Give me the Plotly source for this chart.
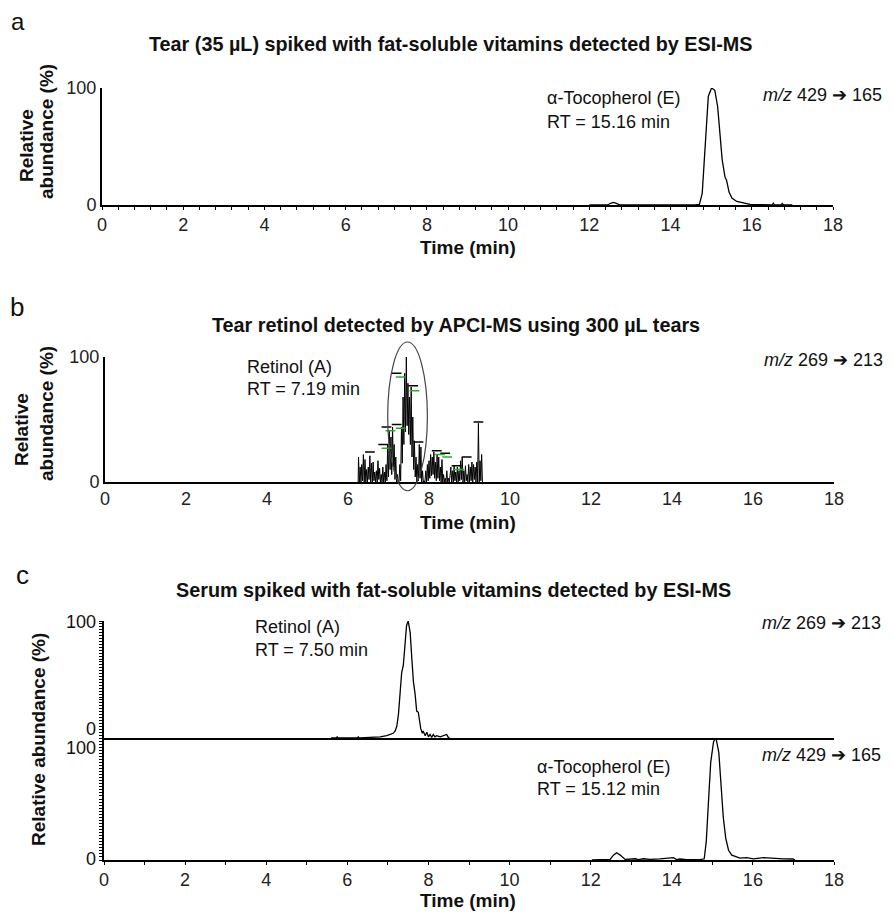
import plotly.graph_objects as go

# The page body has an 8 px margin, so the figure is drawn 8 px smaller and
# every layout pixel position below is given in window coordinates.
OFF = 8
W, H = 893 - OFF, 914 - OFF


def px(x):
    return (x - OFF) / W


def py(y):
    return 1 - (y - OFF) / H


# ---------------- data ----------------
# Panel a: tear spiked, ESI-MS, m/z 429 -> 165 (alpha-tocopherol)
a_time = [12.0, 12.45, 12.52, 12.6, 12.68, 12.76, 14.6, 14.71, 14.78, 14.85, 14.93,
          15.01, 15.09, 15.16, 15.22, 15.27, 15.34, 15.38, 15.44, 15.51, 15.63,
          15.79, 15.96, 16.2, 16.5, 16.53, 16.56, 16.72, 16.75, 16.78, 17.0]
a_abund = [0, 0, 1.5, 2.2, 1.2, 0, 0, 0.5, 10, 53, 93,
           100, 98, 84, 59, 39, 24, 21, 11, 6, 3,
           1.5, 0.5, 0.3, 0, 1.5, 0, 0, 1.2, 0, 0]

# Panel b: tear retinol, APCI-MS, m/z 269 -> 213
b_time = [6.25, 6.26, 6.28, 6.30, 6.32, 6.34, 6.36, 6.38, 6.40, 6.42, 6.44, 6.46, 6.48,
          6.50, 6.52, 6.54, 6.56, 6.58, 6.60, 6.62, 6.64, 6.66, 6.68, 6.70, 6.72, 6.74,
          6.76, 6.78, 6.80, 6.82, 6.84, 6.86, 6.88, 6.90, 6.92, 6.94,
          6.96, 6.98, 7.00, 7.02, 7.04, 7.06, 7.08, 7.10, 7.12, 7.14, 7.16, 7.18, 7.20,
          7.22, 7.24,
          7.26, 7.28, 7.30, 7.32, 7.34, 7.36, 7.38, 7.40, 7.42, 7.44, 7.46, 7.48, 7.50,
          7.52, 7.54, 7.56, 7.58, 7.60, 7.62, 7.64, 7.66, 7.68, 7.70, 7.72, 7.74, 7.76,
          7.78, 7.80, 7.82, 7.84, 7.86,
          7.88, 7.90, 7.92, 7.94, 7.96, 7.98, 8.00, 8.02, 8.04, 8.06, 8.08, 8.10, 8.12,
          8.14, 8.16, 8.18, 8.20, 8.22, 8.24, 8.26, 8.28, 8.30, 8.32, 8.34, 8.36, 8.38,
          8.40, 8.42, 8.44, 8.46, 8.48, 8.50,
          8.52, 8.54, 8.56, 8.58, 8.60, 8.62, 8.64, 8.66, 8.68, 8.70, 8.72, 8.74, 8.76,
          8.78, 8.80, 8.82, 8.84, 8.86, 8.88, 8.90, 8.92, 8.94, 8.96, 8.98, 9.00, 9.02,
          9.04, 9.06, 9.08, 9.10, 9.12, 9.14, 9.16, 9.18, 9.20, 9.22, 9.24, 9.26, 9.28,
          9.30, 9.32]
b_abund = [0, 20, 0, 12, 0, 14, 1, 22, 0, 18, 0, 10, 0,
           12, 2, 21, 0, 15, 0, 16, 1, 8, 0, 9, 0, 17,
           2, 11, 0, 6, 0, 12, 0, 8, 0, 14,
           1, 30, 4, 41, 10, 36, 6, 44, 12, 30, 2, 20, 0,
           6, 0,
           0, 14, 1, 44, 15, 68, 30, 87, 40, 100, 45, 79, 38,
           68, 30, 76, 20, 52, 10, 33, 4, 20, 0, 14, 1, 30,
           3, 28, 0, 9, 0,
           1, 0, 9, 0, 14, 1, 17, 3, 22, 5, 20, 6, 24,
           3, 16, 1, 22, 3, 20, 1, 12, 0, 18, 0, 6, 0,
           3, 0, 9, 0, 3, 0,
           5, 12, 0, 9, 0, 13, 1, 8, 0, 12, 0, 9, 1,
           17, 2, 20, 0, 9, 0, 13, 1, 6, 0, 14, 0, 12,
           1, 16, 0, 14, 2, 12, 0, 16, 0, 47, 0, 17, 1,
           22, 0]

# small peak-label marks in panel b
b_label_time = [7.45, 7.20, 7.61, 6.95, 7.20, 6.87, 6.54, 7.74, 8.19, 8.40, 8.68, 8.93, 9.22]
b_label_abund = [104, 87, 77, 44, 46, 30, 24, 32, 25, 23, 13, 20, 48]
b_green_time = [7.30, 7.64, 7.05, 7.30, 6.95, 8.27, 8.45, 8.74]
b_green_abund = [84, 73, 41, 43, 27, 22, 20, 10]

# Panel c upper: serum retinol, m/z 269 -> 213
cu_time = [5.6, 5.72, 5.75, 5.78, 6.24, 6.27, 6.30, 6.81, 6.97, 7.05, 7.13, 7.18, 7.22,
           7.26, 7.30, 7.34, 7.38, 7.42, 7.46, 7.50, 7.55, 7.59, 7.63, 7.67, 7.71, 7.75,
           7.78, 7.81, 7.85, 7.87, 7.92, 7.96, 8.00, 8.04, 8.08, 8.12, 8.16, 8.20, 8.29,
           8.37, 8.45, 8.49, 8.52]
cu_abund = [0, 0, 1, 0, 0, 1, 0, 1, 2, 3, 4, 6, 10,
            20, 40, 56, 62, 80, 96, 100, 90, 68, 48, 38, 23, 22,
            16, 8, 4, 6, 2, 5, 1, 3, 0.5, 3, 1, 2, 1,
            2, 3, 0.5, 0]

# Panel c lower: serum alpha-tocopherol, m/z 429 -> 165
cl_time = [12.03, 12.48, 12.56, 12.64, 12.73, 12.85, 13.1, 13.18, 13.3, 13.46, 13.71,
           14.04, 14.12, 14.2, 14.37, 14.7, 14.80, 14.85, 14.90, 14.96, 15.03, 15.09,
           15.16, 15.22, 15.27, 15.33, 15.40, 15.48, 15.60, 15.68, 15.85, 16.01, 16.26,
           16.42, 16.59, 16.75, 16.99, 17.04]
cl_abund = [0, 0.5, 4, 6, 4, 0.5, 1, 0.3, 1, 0.5, 1,
            2, 0.3, 0.8, 0.3, 0.3, 1, 15, 45, 80, 97, 100,
            88, 60, 35, 18, 8, 4, 2.5, 1.5, 2, 1, 2,
            1.5, 1.5, 1, 0.8, 0]

# ---------------- figure ----------------
LINE = dict(color="black", width=1.3)
fig = go.Figure()
fig.add_trace(go.Scatter(x=a_time, y=a_abund, mode="lines", line=LINE,
                         xaxis="x", yaxis="y", showlegend=False))
fig.add_trace(go.Scatter(x=b_time, y=b_abund, mode="lines", line=dict(color="black", width=1.0),
                         xaxis="x2", yaxis="y2", showlegend=False))
fig.add_trace(go.Scatter(x=b_label_time, y=b_label_abund, mode="markers",
                         marker=dict(symbol="line-ew", size=7, line=dict(color="black", width=1.5)),
                         xaxis="x2", yaxis="y2", showlegend=False, cliponaxis=False))
fig.add_trace(go.Scatter(x=b_green_time, y=b_green_abund, mode="markers",
                         marker=dict(symbol="line-ew", size=7, line=dict(color="#22b020", width=1.5)),
                         xaxis="x2", yaxis="y2", showlegend=False, cliponaxis=False))
fig.add_trace(go.Scatter(x=cu_time, y=cu_abund, mode="lines", line=LINE,
                         xaxis="x3", yaxis="y3", showlegend=False))
fig.add_trace(go.Scatter(x=cl_time, y=cl_abund, mode="lines", line=LINE,
                         xaxis="x4", yaxis="y4", showlegend=False))

NARROW = "Liberation Sans Narrow, Arial Narrow, Liberation Sans"
TICKFONT = dict(family=NARROW, size=18, color="#222")


def xax(dom, anchor, show_labels=True, minor_dtick=None, ticks="outside"):
    d = dict(domain=dom, anchor=anchor, range=[0, 18], showline=True, linecolor="black",
             linewidth=1.5, showgrid=False, zeroline=False, tickmode="linear",
             tick0=0, dtick=2, ticks=ticks, ticklen=3, tickcolor="black",
             tickfont=TICKFONT, showticklabels=show_labels, automargin=False)
    if minor_dtick:
        d["minor"] = dict(dtick=minor_dtick, tick0=0, ticks="outside", ticklen=3,
                          tickcolor="black", showgrid=False)
    return d


def yax(dom, anchor, labels=True, minor=False):
    d = dict(domain=dom, anchor=anchor, range=[0, 100], showline=True, linecolor="black",
             linewidth=2, showgrid=False, zeroline=False, tickmode="linear",
             tick0=0, dtick=100, ticks="", tickfont=TICKFONT, showticklabels=labels,
             automargin=False)
    if minor:
        d["ticks"] = "outside"
        d["ticklen"] = 3
        d["tickcolor"] = "black"
        d["minor"] = dict(dtick=2.5, tick0=0, ticks="outside", ticklen=3,
                          tickcolor="black", tickwidth=1, showgrid=False)
    return d


fig.update_layout(
    width=W, height=H, autosize=False,
    margin=dict(l=0, r=0, t=0, b=0, autoexpand=False),
    paper_bgcolor="white", plot_bgcolor="white",
    font=dict(family="Liberation Sans, Arial, sans-serif", color="#222"),
    xaxis=xax([px(102), px(833)], "y", minor_dtick=0.4),
    yaxis=yax([py(205), py(88)], "x"),
    xaxis2=xax([px(105), px(834)], "y2", ticks=""),
    yaxis2=yax([py(482), py(357)], "x2"),
    xaxis3=xax([px(104), px(834)], "y3", show_labels=False, ticks=""),
    yaxis3=yax([py(738), py(621)], "x3", labels=False, minor=True),
    xaxis4=xax([px(104), px(834)], "y4", minor_dtick=1),
    yaxis4=yax([py(860), py(738)], "x4", labels=False, minor=True),
)

# ellipse around retinol peak in panel b
fig.add_shape(type="circle", xref="x2", yref="y2 domain", x0=6.98, x1=7.96, y0=-0.07, y1=1.12,
              line=dict(color="#444", width=1.2))

ann = []


def text(x, y, s, size=18, bold=False, anchor="left", angle=0, family=None):
    d = dict(x=px(x), y=py(y), xref="paper", yref="paper", showarrow=False,
             text=f"<b>{s}</b>" if bold else s, xanchor=anchor, yanchor="middle",
             textangle=angle, font=dict(size=size, color="#111"))
    if family:
        d["font"]["family"] = family
    ann.append(d)


# panel letters
text(18, 22, "a", size=24, anchor="center")
text(17, 307, "b", size=26, anchor="center")
text(22, 575, "c", size=26, anchor="center")

# titles
text(451, 44, "Tear (35 µL) spiked with fat-soluble vitamins detected by ESI-MS", size=19.8, bold=True, anchor="center")
text(456, 325, "Tear retinol detected by APCI-MS using 300 µL tears", size=19.8, bold=True, anchor="center")
text(453, 590, "Serum spiked with fat-soluble vitamins detected by ESI-MS", size=19.8, bold=True, anchor="center")

# axis titles
for yc in (247, 522, 900):
    text(468, yc, "Time (min)", size=19, bold=True, anchor="center")
text(26, 146, "Relative", size=19, bold=True, anchor="center", angle=-90)
text(46, 132, "abundance (%)", size=19, bold=True, anchor="center", angle=-90)
text(22, 430, "Relative", size=19, bold=True, anchor="center", angle=-90)
text(46, 414, "abundance (%)", size=19, bold=True, anchor="center", angle=-90)
text(38, 740, "Relative abundance (%)", size=19, bold=True, anchor="center", angle=-90)

# panel c y tick labels
text(98, 622, "100", size=18, anchor="right", family=NARROW)
text(98, 729, "0", size=18, anchor="right", family=NARROW)
text(98, 748, "100", size=18, anchor="right", family=NARROW)
text(98, 859, "0", size=18, anchor="right", family=NARROW)

# peak annotations
text(545, 98, "α-Tocopherol (E)")
text(545, 122, "RT = 15.16 min")
text(761, 95, "<i>m/z</i> 429 ➔ 165")

text(245, 367, "Retinol (A)")
text(245, 389, "RT = 7.19 min")
text(762, 360, "<i>m/z</i> 269 ➔ 213")

text(253, 627, "Retinol (A)")
text(253, 650, "RT = 7.50 min")
text(760, 623, "<i>m/z</i> 269 ➔ 213")

text(535, 767, "α-Tocopherol (E)")
text(535, 789, "RT = 15.12 min")
text(760, 755, "<i>m/z</i> 429 ➔ 165")

fig.update_layout(annotations=ann)

fig.write_html("out.html")
